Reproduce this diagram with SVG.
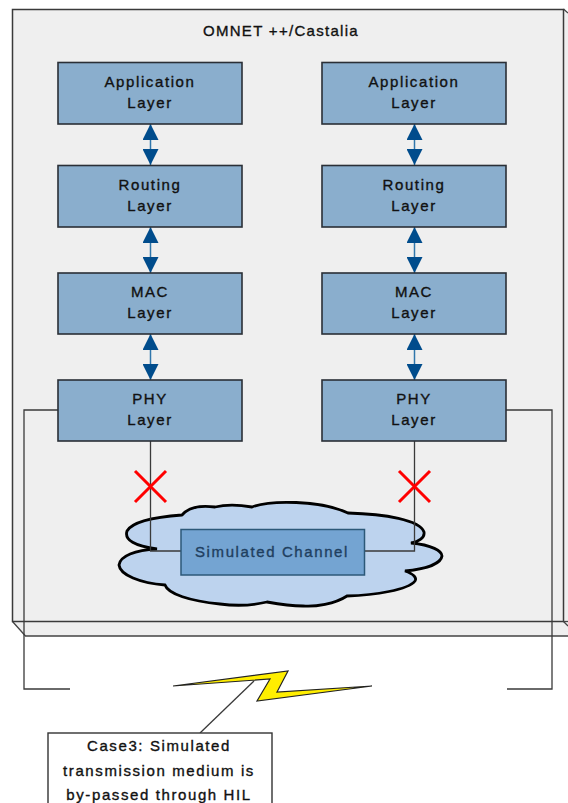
<svg xmlns="http://www.w3.org/2000/svg" width="568" height="803" viewBox="0 0 568 803">
<style>
text{font-family:"Liberation Sans",Arial,sans-serif;font-size:15px;letter-spacing:1.6px;fill:#111;stroke:#111;stroke-width:.35px;text-anchor:middle}
.layer{fill:#8aaecd;stroke:#2a2f36;stroke-width:1.6}
.wire{fill:none;stroke:#3a3a3a;stroke-width:1.3}
.x{stroke:#ff0000;stroke-width:3;fill:none}
.dbl{stroke:#2f76ab;stroke-width:1.5;marker-start:url(#ah);marker-end:url(#ah)}
</style>
<defs>
<marker id="ah" markerUnits="userSpaceOnUse" markerWidth="17" markerHeight="16" refX="16" refY="8" orient="auto-start-reverse"><path d="M0 0L16 8L0 16Z" fill="#004c8c"/></marker>
</defs>
<rect width="568" height="803" fill="#fff"/>
<g id="frame">
<path d="M12.500 621.500L25.500 636H568V13L563.500 9Z" fill="#efefef"/>
<path d="M12.500 621.500L25.500 636H568M563.500 9L568 13M563.500 621.500L568 626" fill="none" stroke="#444" stroke-width="1.300"/>
<rect x="12.500" y="9.500" width="551" height="612" fill="#efefef" stroke="#3a3a3a" stroke-width="1.500"/>
<path d="M563.500 621.500H568" stroke="#444" stroke-width="1.300"/>
<text x="281" y="36" style="letter-spacing:1.300px">OMNET ++/Castalia</text>
</g>
<g id="connectors">
<path class="wire" d="M58 410H24V689H70"/>
<path class="wire" d="M506 410H552V689H507"/>
<path class="dbl" d="M150.500 124V165"/>
<path class="dbl" d="M150.500 227V273"/>
<path class="dbl" d="M150.500 334V380"/>
<path class="dbl" d="M414.500 124V165"/>
<path class="dbl" d="M414.500 227V273"/>
<path class="dbl" d="M414.500 334V380"/>
</g>
<g id="cloud">
<path d="M157 549C135 546 124 540 127 531C132 522 155 517 182 515C188 508 200 505 215 507C228 504 240 505 252 507C270 500 320 500 348 513C385 514 420 520 424 532C425 538 420 541 411 543C432 545 442 551 442 556C441 564 425 569 405 571C414 574 417 578 415 581C408 590 375 595 347 596C335 604 315 607 303 606C290 606 278 604 267 602C250 606 235 606 220 604C190 601 168 594 165 585C140 583 120 575 119 565C120 556 135 550 157 549Z" fill="#bdd3ee" stroke="#000" stroke-width="2.800"/>
</g>
<g id="wires-channel">
<path class="wire" d="M150.500 441V551H181"/>
<path class="wire" d="M414.500 441V551H365"/>
</g>
<g id="channel">
<rect x="181" y="529.500" width="183.500" height="45.500" fill="#74a4d2" stroke="#2c5878" stroke-width="1.500"/>
<text x="272" y="556.500" style="fill:#1f3f5f;stroke:#1f3f5f">Simulated Channel</text>
</g>
<g id="app-l"><rect class="layer" x="58" y="62.500" width="184" height="61.500"/><text x="150" y="87">Application</text><text x="150" y="108">Layer</text></g>
<g id="rout-l"><rect class="layer" x="58" y="165.500" width="184" height="61.500"/><text x="150" y="190">Routing</text><text x="150" y="211">Layer</text></g>
<g id="mac-l"><rect class="layer" x="58" y="273" width="184" height="61"/><text x="150" y="297">MAC</text><text x="150" y="318">Layer</text></g>
<g id="phy-l"><rect class="layer" x="58" y="380" width="184" height="61"/><text x="150" y="404">PHY</text><text x="150" y="425">Layer</text></g>
<g id="app-r"><rect class="layer" x="322" y="62.500" width="184" height="61.500"/><text x="414" y="87">Application</text><text x="414" y="108">Layer</text></g>
<g id="rout-r"><rect class="layer" x="322" y="165.500" width="184" height="61.500"/><text x="414" y="190">Routing</text><text x="414" y="211">Layer</text></g>
<g id="mac-r"><rect class="layer" x="322" y="273" width="184" height="61"/><text x="414" y="297">MAC</text><text x="414" y="318">Layer</text></g>
<g id="phy-r"><rect class="layer" x="322" y="380" width="184" height="61"/><text x="414" y="404">PHY</text><text x="414" y="425">Layer</text></g>
<g id="cross-l"><path class="x" d="M135 471L166 502M166 471L135 502"/></g>
<g id="cross-r"><path class="x" d="M399 471L430 502M430 471L399 502"/></g>
<g id="bolt"><path d="M173 686L288 671L277 692L372 686L257 701L270 679Z" fill="#ffee00" stroke="#222" stroke-width="1.200"/></g>
<g id="case3">
<path class="wire" d="M254 681L200 733"/>
<rect x="48" y="733" width="224" height="80" fill="#fff" stroke="#333" stroke-width="1.400"/>
<text x="159" y="751">Case3: Simulated</text>
<text x="159" y="776">transmission medium is</text>
<text x="159" y="800">by-passed through HIL</text>
</g>
</svg>
